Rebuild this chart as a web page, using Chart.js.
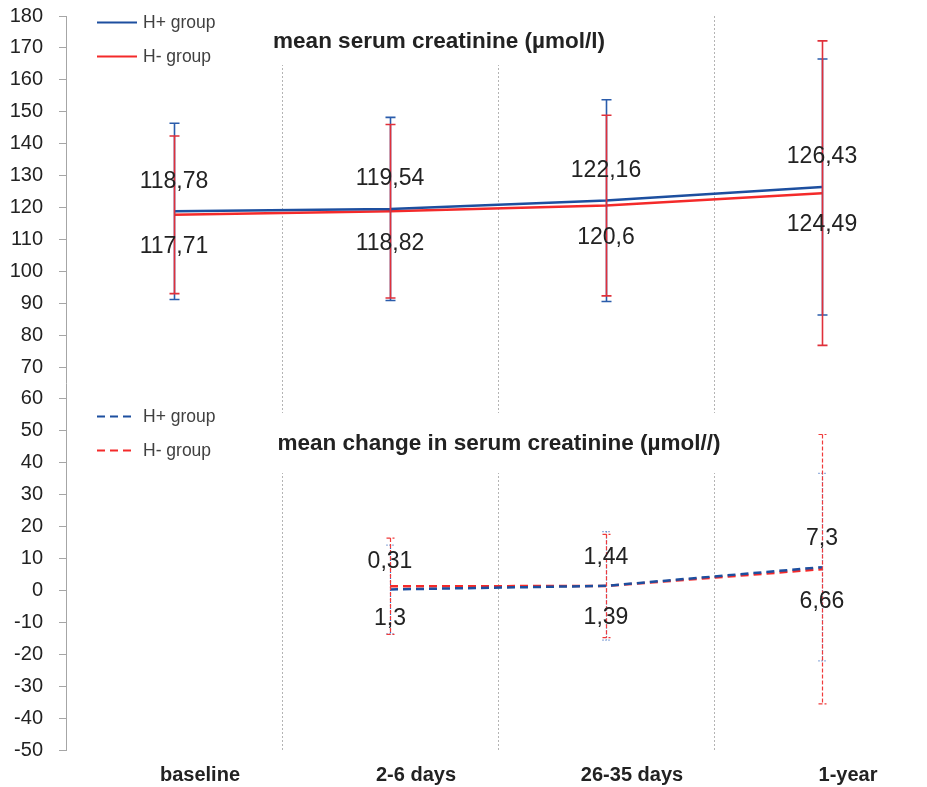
<!DOCTYPE html>
<html>
<head>
<meta charset="utf-8">
<script src="https://cdn.jsdelivr.net/npm/chart.js@4.4.1/dist/chart.umd.min.js"></script>
<style>
  html, body { margin: 0; padding: 0; background: #fff; overflow: hidden; }
  canvas { display: block; }
</style>
</head>
<body>
<canvas id="creat-chart" width="934" height="787"></canvas>
<script>
let labels = ['baseline', '2-6 days', '26-35 days', '1-year'];

// mean serum creatinine (µmol/l) with SD
let meanHplus = [118.78, 119.54, 122.16, 126.43];
let meanHminus = [117.71, 118.82, 120.6, 124.49];
let sdHplus = [27.6, 28.7, 31.6, 40.1];
let sdHminus = [24.7, 27.2, 28.3, 47.7];

// mean change from baseline with SD
let changeHplus = [null, 0.31, 1.44, 7.3];
let changeHminus = [null, 1.3, 1.39, 6.66];
let changeSdHplus = [null, 13.9, 17.0, 29.4];
let changeSdHminus = [null, 15.1, 16.2, 42.2];

let yMin = -50;
let yMax = 180;
let yStep = 10;

let blue = '#1d4f9f';
let red = '#f42a2a';
let fontName = '"Liberation Sans", Arial, sans-serif';

// error bars drawn on top of the lines, blue first then red
const errorBars = {
  id: 'errorBars',
  afterDatasetsDraw(chart) {
    const ctx = chart.ctx;
    const xs = chart.scales.x, ys = chart.scales.y;
    chart.data.datasets.forEach((ds) => {
      if (!ds.sd) return;
      ctx.save();
      ctx.strokeStyle = ds.barColor;
      ctx.lineWidth = ds.barWidth;
      ctx.setLineDash(ds.barDash || []);
      ds.data.forEach((v, i) => {
        if (v === null || ds.sd[i] === null) return;
        let px = Math.round(xs.getPixelForValue(i)) + 0.5;
        let top = ys.getPixelForValue(v + ds.sd[i]);
        let bot = ys.getPixelForValue(v - ds.sd[i]);
        let cap = ds.capHalf;
        ctx.beginPath();
        ctx.moveTo(px, top); ctx.lineTo(px, bot);
        ctx.moveTo(px - cap, top); ctx.lineTo(px + cap, top);
        ctx.moveTo(px - cap, bot); ctx.lineTo(px + cap, bot);
        ctx.stroke();
      });
      ctx.restore();
    });
  }
};

// value labels: H+ above the point, H- below, decimal comma
const valueLabels = {
  id: 'valueLabels',
  afterDatasetsDraw(chart) {
    const ctx = chart.ctx;
    const xs = chart.scales.x, ys = chart.scales.y;
    ctx.save();
    ctx.font = '23px ' + fontName;
    ctx.fillStyle = '#222';
    ctx.textAlign = 'center';
    ctx.textBaseline = 'middle';
    chart.data.datasets.forEach((ds) => {
      ds.data.forEach((v, i) => {
        if (v === null) return;
        let txt = String(v).replace('.', ',');
        ctx.fillText(txt, xs.getPixelForValue(i), ys.getPixelForValue(v) + ds.labelShift);
      });
    });
    ctx.restore();
  }
};

// the two panel titles and their legends
let panels = [
  {title: 'mean serum creatinine (µmol/l)', tx: 439, ty: 42, box: [270, 0, 342, 65], legendY: [22, 56], sets: [0, 1]},
  {title: 'mean change in serum creatinine (µmol//)', tx: 499, ty: 444, box: [268, 413, 462, 60], legendY: [416, 450], sets: [2, 3]}
];

const panelText = {
  id: 'panelText',
  beforeDatasetsDraw(chart) {
    const ctx = chart.ctx;
    ctx.save();
    ctx.fillStyle = '#fff';
    panels.forEach((p) => ctx.fillRect(p.box[0], p.box[1], p.box[2], p.box[3]));
    ctx.restore();
  },
  afterDraw(chart) {
    const ctx = chart.ctx;
    ctx.save();
    ctx.textBaseline = 'middle';
    panels.forEach((p) => {
      ctx.font = 'bold 22.5px ' + fontName;
      ctx.fillStyle = '#222';
      ctx.textAlign = 'center';
      ctx.fillText(p.title, p.tx, p.ty);
      p.sets.forEach((di, k) => {
        let ds = chart.data.datasets[di];
        let ly = p.legendY[k] + 0.5;
        ctx.strokeStyle = ds.borderColor;
        ctx.lineWidth = 2;
        ctx.setLineDash(ds.borderDash || []);
        ctx.beginPath();
        ctx.moveTo(97, ly);
        ctx.lineTo(ds.borderDash ? 134 : 137, ly);
        ctx.stroke();
        ctx.setLineDash([]);
        ctx.font = '17.5px ' + fontName;
        ctx.fillStyle = '#404040';
        ctx.textAlign = 'left';
        ctx.fillText(ds.label, 143, p.legendY[k] + 1);
      });
    });
    ctx.restore();
  }
};

new Chart(document.getElementById('creat-chart'), {
  type: 'line',
  data: {
    labels: labels,
    datasets: [
      {label: 'H+ group', data: meanHplus, sd: sdHplus, borderColor: blue, borderWidth: 2.5,
        barColor: '#2a5cab', barWidth: 1.6, capHalf: 5, labelShift: -30},
      {label: 'H- group', data: meanHminus, sd: sdHminus, borderColor: red, borderWidth: 2.5,
        barColor: '#e0303a', barWidth: 1.6, capHalf: 5, labelShift: 32},
      {label: 'H+ group', data: changeHplus, sd: changeSdHplus, borderColor: blue, borderWidth: 2.5, borderDash: [8, 5],
        barColor: '#3a6cc0', barWidth: 1.2, barDash: [1, 2], capHalf: 4, labelShift: -28},
      {label: 'H- group', data: changeHminus, sd: changeSdHminus, borderColor: red, borderWidth: 2.5, borderDash: [8, 5],
        barColor: '#f03a3a', barWidth: 1.2, barDash: [4, 2], capHalf: 4, labelShift: 32}
    ]
  },
  options: {
    responsive: false,
    animation: false,
    spanGaps: false,
    layout: {padding: {top: 16, right: 4, left: 0, bottom: 0}},
    elements: {point: {radius: 0}, line: {tension: 0}},
    plugins: {legend: {display: false}, tooltip: {enabled: false}},
    scales: {
      x: {
        offset: true,
        grid: {display: true, offset: true, drawTicks: false, color: '#b4b4b4', lineWidth: 1},
        border: {display: false, dash: [2, 2]},
        ticks: {font: {family: fontName, size: 20, weight: 'bold'}, color: '#222', padding: 13, labelOffset: 26, maxRotation: 0},
        afterFit: (scale) => { scale.height = 37; }
      },
      y: {
        min: yMin,
        max: yMax,
        grid: {drawOnChartArea: false, drawTicks: true, tickLength: 7, color: '#a6a6a6'},
        border: {display: true, color: '#a6a6a6', width: 1},
        ticks: {stepSize: yStep, font: {family: fontName, size: 20}, color: '#222', padding: 16},
        afterFit: (scale) => {
          scale.width = 66;
          scale.paddingTop = 0;
          scale.paddingBottom = 0;
        }
      }
    }
  },
  plugins: [errorBars, valueLabels, panelText]
});
</script>
</body>
</html>
